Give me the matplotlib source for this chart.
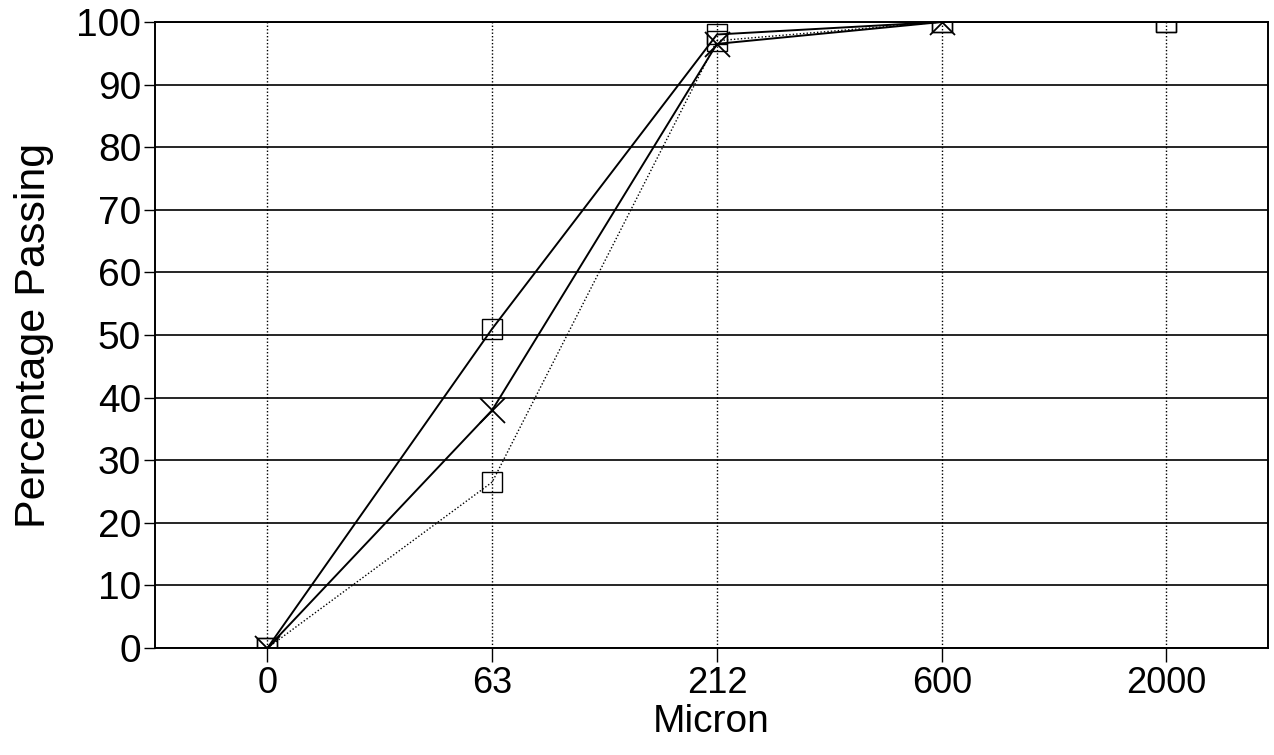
import numpy as np
import matplotlib
matplotlib.use("Agg")
import matplotlib.pyplot as plt

# sieve sizes (categorical axis) and cumulative percentage passing
sizes = ["0", "63", "212", "600", "2000"]
sample_a = [0, 51, 98, 100, 100]
sample_b = [0, 38, 96.5, 100, np.nan]
sample_c = [0, 26.5, 97, 100, 100]

plt.rcParams['font.family'] = ['Liberation Sans', 'DejaVu Sans']

fig = plt.figure(figsize=(12.74, 7.55), dpi=100)
ax = fig.add_axes([0.1217, 0.1417, 0.8733, 0.8292])

x = np.arange(len(sizes))
ax.plot(x, sample_a, color='black', lw=1.4, marker='s', ms=14,
        mfc='none', mec='black', mew=1.0, zorder=3)
ax.plot(x, sample_b, color='black', lw=1.4, marker='x', ms=18,
        mec='black', mew=1.3, zorder=3)
ax.plot(x, sample_c, color='black', lw=1.0, ls=(0, (1, 1.5)), marker='s', ms=14,
        mfc='none', mec='black', mew=1.0, zorder=3)

ax.set_xlim(-0.5, 4.45)
ax.set_ylim(0, 100)
ax.set_xticks(x)
ax.set_xticklabels(sizes, fontsize=26)
ax.set_yticks(np.arange(0, 101, 10))
ax.tick_params(axis='y', labelsize=28, length=8, width=1, direction='out', pad=2)
ax.tick_params(axis='x', length=10, width=1, direction='out', pad=3)

ax.yaxis.grid(True, color='black', lw=1.2, ls='-')
ax.xaxis.grid(True, color='black', lw=1.0, ls=(0, (1, 1.5)))
ax.set_axisbelow(True)
for s in ax.spines.values():
    s.set_linewidth(1.4)

ax.set_xlabel("Micron", fontsize=28, labelpad=2)
ax.set_ylabel("Percentage Passing", fontsize=31, labelpad=16)

fig.savefig("out.png", dpi=100)
